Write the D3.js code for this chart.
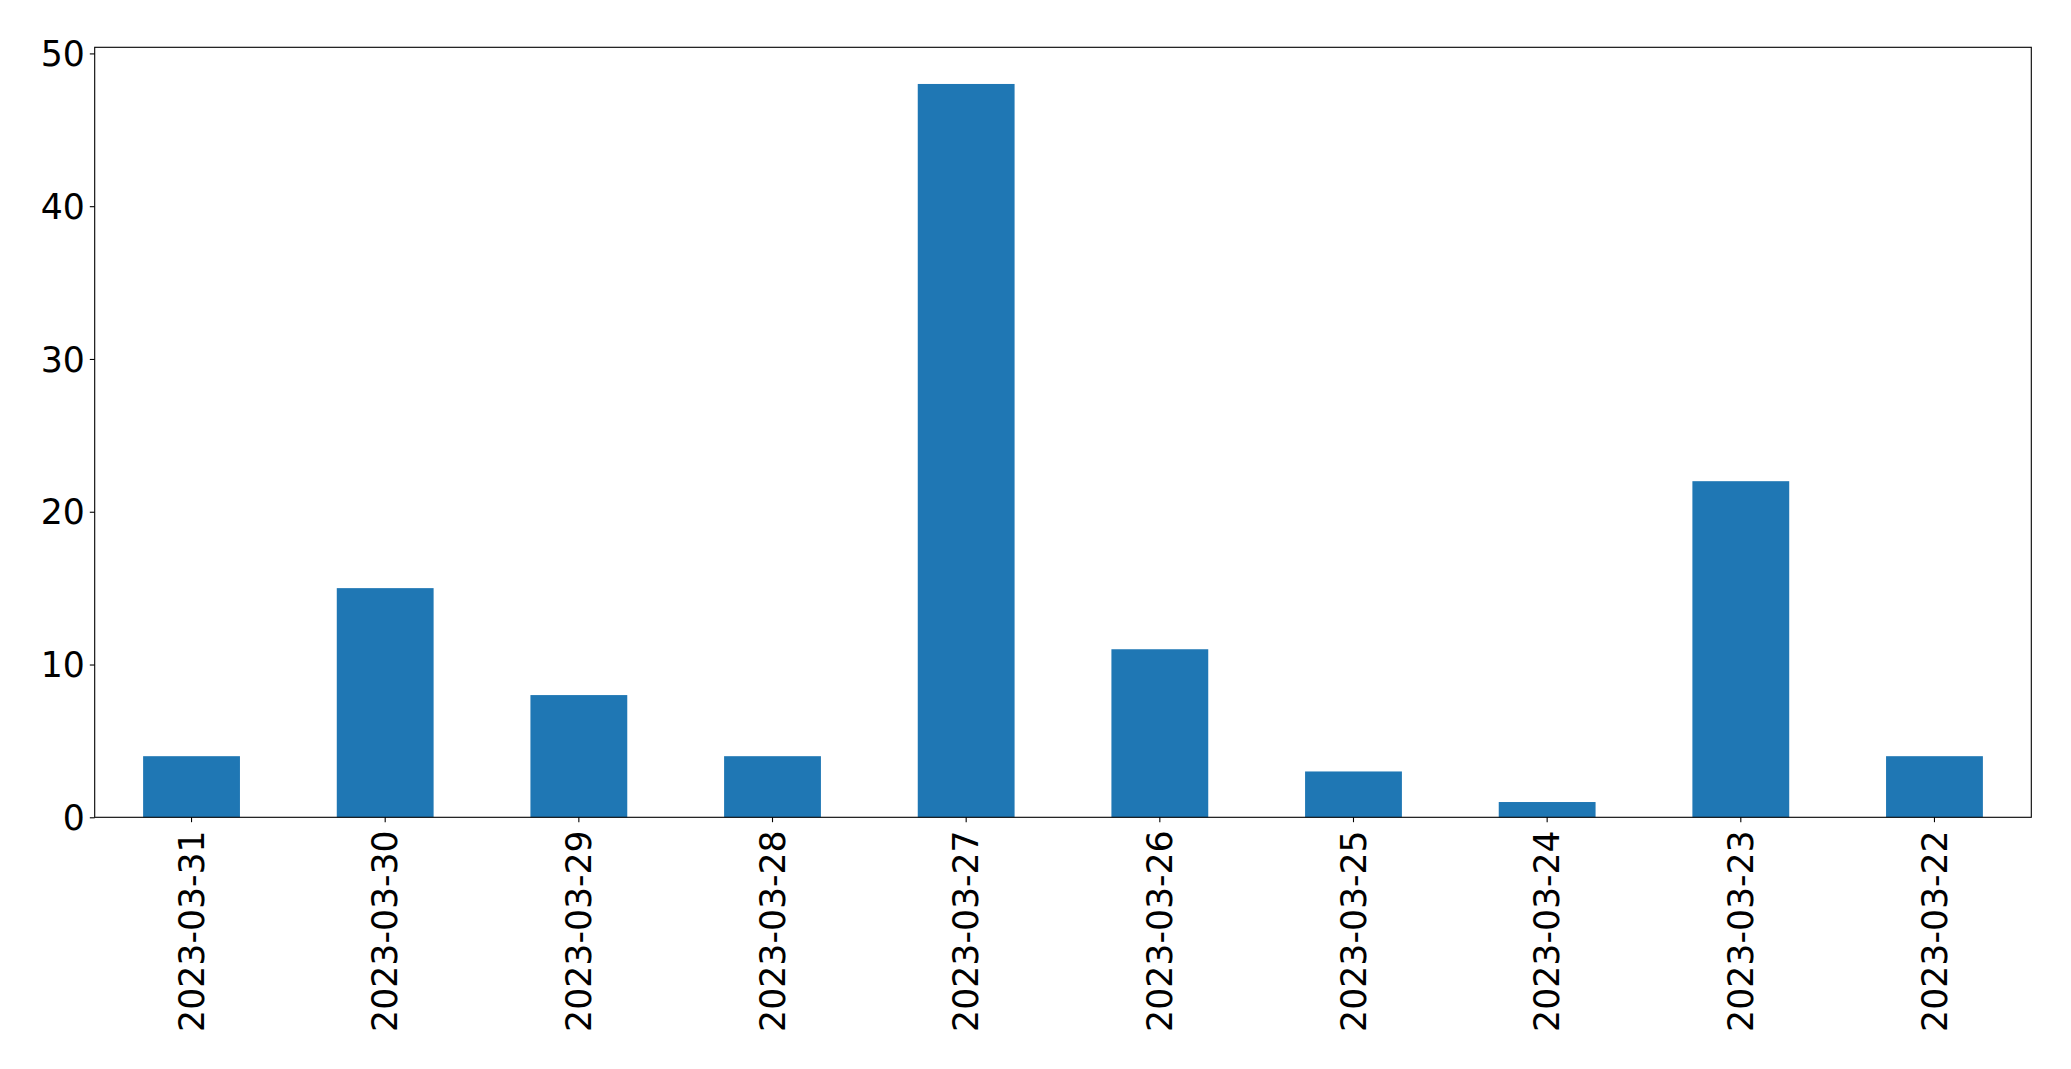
<!DOCTYPE html>
<html>
<head>
<meta charset="utf-8">
<script src="https://cdn.jsdelivr.net/npm/d3@7"></script>
<style>
  body { margin: 0; background: #fff; }
  #chart { width: 2071px; height: 1069px; }
  text { font-family: "DejaVu Sans", sans-serif; fill: #000; }
</style>
</head>
<body>
<div id="chart"></div>
<script>
// dados
const dates = ["2023-03-31", "2023-03-30", "2023-03-29", "2023-03-28", "2023-03-27",
               "2023-03-26", "2023-03-25", "2023-03-24", "2023-03-23", "2023-03-22"];
const counts = [4, 15, 8, 4, 48, 11, 3, 1, 22, 4];
const yTicks = [0, 10, 20, 30, 40, 50];

const W = 2071, H = 1069;
const margin = { top: 47.3, right: W - 2031.3, bottom: H - 817.3, left: 94.7 };
const width = W - margin.left - margin.right;
const height = H - margin.top - margin.bottom;

const svg = d3.select("#chart").append("svg")
    .attr("width", W)
    .attr("height", H);

const g = svg.append("g")
    .attr("transform", `translate(${margin.left},${margin.top})`);

// escalas
const x = d3.scaleBand()
    .domain(dates)
    .range([0, width])
    .paddingInner(0.5)
    .paddingOuter(0.25);

const y = d3.scaleLinear()
    .domain([0, d3.max(counts) * 1.05])
    .range([height, 0]);

// barras
g.selectAll("rect.bar")
    .data(dates.map((d, i) => ({ date: d, value: counts[i] })))
    .enter()
    .append("rect")
    .attr("class", "bar")
    .attr("x", d => x(d.date))
    .attr("y", d => y(d.value))
    .attr("width", x.bandwidth())
    .attr("height", d => y(0) - y(d.value))
    .attr("fill", "#1f77b4");

// eixo Y
const yAxis = g.append("g")
    .call(d3.axisLeft(y).tickValues(yTicks).tickSize(4.9).tickPadding(4.9));
yAxis.select(".domain").remove();
yAxis.selectAll("line").attr("stroke", "#000").attr("stroke-width", 1.1);
yAxis.selectAll("text").style("font-size", "34.7px").attr("dy", "0.35em");

// eixo X
const xAxis = g.append("g")
    .attr("transform", `translate(0,${height})`)
    .call(d3.axisBottom(x).tickSize(4.9).tickPadding(0));
xAxis.select(".domain").remove();
xAxis.selectAll("line").attr("stroke", "#000").attr("stroke-width", 1.1);
xAxis.selectAll("text")
    .style("font-size", "34.7px")
    .attr("transform", "translate(0,13) rotate(-90)")
    .attr("x", 0)
    .attr("y", 0)
    .attr("dy", "0.35em")
    .attr("text-anchor", "end");

// moldura
g.append("rect")
    .attr("x", 0)
    .attr("y", 0)
    .attr("width", width)
    .attr("height", height)
    .attr("fill", "none")
    .attr("stroke", "#000")
    .attr("stroke-width", 1.1);
</script>
</body>
</html>
